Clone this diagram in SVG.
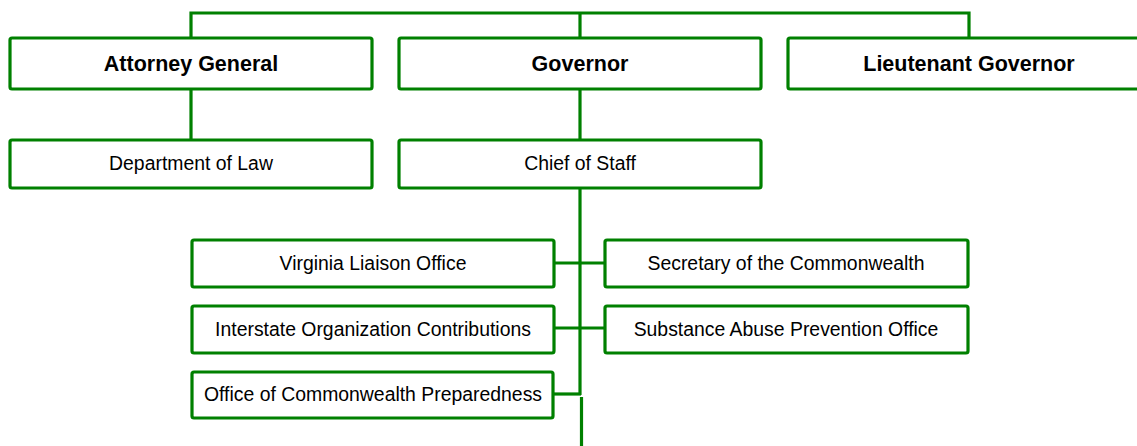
<svg xmlns="http://www.w3.org/2000/svg" width="1137" height="446" viewBox="0 0 1137 446">
<style>
.box{fill:#fff;stroke:#008000;stroke-width:3.2;}
.ln{fill:none;stroke:#008000;stroke-width:3.2;}
.b{font-family:"Liberation Sans",Arial,sans-serif;font-weight:bold;font-size:21.5px;text-anchor:middle;fill:#000;}
.r{font-family:"Liberation Sans",Arial,sans-serif;font-size:19.4px;text-anchor:middle;fill:#000;}
</style>
<rect width="1137" height="446" fill="#fff"/>
<g id="connectors">
<polyline class="ln" points="191,38 191,13 969,13 969,38"/>
<line class="ln" x1="580" y1="13" x2="580" y2="38"/>
<line class="ln" x1="191" y1="89" x2="191" y2="140"/>
<line class="ln" x1="580" y1="89" x2="580" y2="140"/>
<line class="ln" x1="580" y1="188" x2="580" y2="395"/>
<line class="ln" x1="581.5" y1="397" x2="581.5" y2="446"/>
<line class="ln" x1="554" y1="263" x2="605" y2="263"/>
<line class="ln" x1="554" y1="328" x2="605" y2="328"/>
<line class="ln" x1="553" y1="394" x2="581" y2="394"/>
</g>
<g id="attorney-general"><rect class="box" x="10" y="38" width="362" height="51" rx="2"/><text class="b" x="191" y="71">Attorney General</text></g>
<g id="governor"><rect class="box" x="399" y="38" width="362" height="51" rx="2"/><text class="b" x="580" y="71">Governor</text></g>
<g id="lieutenant-governor"><rect class="box" x="788" y="38" width="362" height="51" rx="2"/><text class="b" x="969" y="71">Lieutenant Governor</text></g>
<g id="department-of-law"><rect class="box" x="10" y="140" width="362" height="48" rx="2"/><text class="r" x="191" y="170">Department of Law</text></g>
<g id="chief-of-staff"><rect class="box" x="399" y="140" width="362" height="48" rx="2"/><text class="r" x="580" y="170">Chief of Staff</text></g>
<g id="virginia-liaison-office"><rect class="box" x="192" y="240" width="362" height="47" rx="2"/><text class="r" x="373" y="270">Virginia Liaison Office</text></g>
<g id="interstate-organization-contributions"><rect class="box" x="192" y="306" width="362" height="47" rx="2"/><text class="r" x="373" y="336">Interstate Organization Contributions</text></g>
<g id="office-of-commonwealth-preparedness"><rect class="box" x="192" y="372" width="361" height="46" rx="2"/><text class="r" x="373" y="401">Office of Commonwealth Preparedness</text></g>
<g id="secretary-of-the-commonwealth"><rect class="box" x="605" y="240" width="363" height="47" rx="2"/><text class="r" x="786" y="270">Secretary of the Commonwealth</text></g>
<g id="substance-abuse-prevention-office"><rect class="box" x="605" y="306" width="363" height="47" rx="2"/><text class="r" x="786" y="336">Substance Abuse Prevention Office</text></g>
</svg>
